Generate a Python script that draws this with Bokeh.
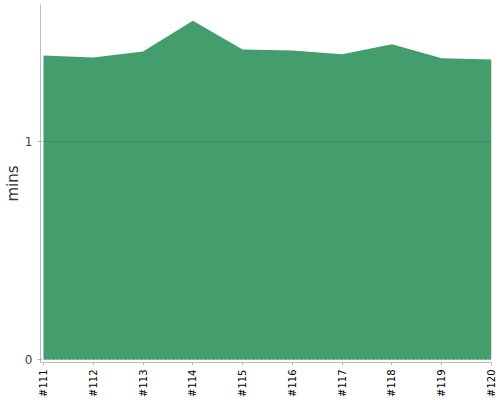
import math
from bokeh.plotting import figure
from bokeh.models import Range1d, FixedTicker
from bokeh.embed import file_html
from bokeh.resources import INLINE

builds = [111, 112, 113, 114, 115, 116, 117, 118, 119, 120]
build_labels = ["#111", "#112", "#113", "#114", "#115", "#116", "#117", "#118", "#119", "#120"]
mins = [1.394, 1.385, 1.413, 1.554, 1.422, 1.417, 1.400, 1.446, 1.381, 1.376]
zeros = [0] * len(builds)

p = figure(width=500, height=400, output_backend="svg", toolbar_location=None,
           x_range=Range1d(110.94, 120), y_range=Range1d(-0.0138, 1.628),
           min_border_left=40, min_border_right=9, min_border_top=4, min_border_bottom=38)
p.outline_line_color = None

p.varea(x=builds, y1=zeros, y2=mins, fill_color="#449d6d")

p.xgrid.visible = False
p.ygrid.ticker = FixedTicker(ticks=[0, 1])
p.ygrid.level = "overlay"
p.ygrid.grid_line_color = "#000000"
p.ygrid.grid_line_alpha = 0.22
p.ygrid.grid_line_dash = "2 2"

p.xaxis.ticker = FixedTicker(ticks=builds)
p.xaxis.major_label_overrides = {b: l for b, l in zip(builds, build_labels)}
p.xaxis.major_label_orientation = math.pi / 2
p.xaxis.major_label_text_font = "DejaVu Sans"
p.xaxis.major_label_text_font_size = "10px"
p.xaxis.major_label_text_color = "#000000"
p.xaxis.major_label_standoff = 4
p.xaxis.minor_tick_line_color = None
p.xaxis.major_tick_in = 0
p.xaxis.major_tick_out = 3

p.yaxis.ticker = FixedTicker(ticks=[0, 1])
p.yaxis.axis_label = "mins"
p.yaxis.axis_label_text_font = "DejaVu Sans"
p.yaxis.axis_label_text_font_style = "normal"
p.yaxis.axis_label_text_font_size = "15px"
p.yaxis.axis_label_text_color = "#333333"
p.yaxis.axis_label_standoff = 0
p.yaxis.major_label_text_font = "DejaVu Sans"
p.yaxis.major_label_text_font_size = "12px"
p.yaxis.major_label_text_color = "#444444"
p.yaxis.major_label_standoff = 5
p.yaxis.minor_tick_line_color = None
p.yaxis.major_tick_in = 0
p.yaxis.major_tick_out = 3

for ax in (p.xaxis, p.yaxis):
    ax.axis_line_color = "#bbbbbb"
    ax.major_tick_line_color = "#bbbbbb"

open("out.html", "w").write(file_html(p, INLINE))
